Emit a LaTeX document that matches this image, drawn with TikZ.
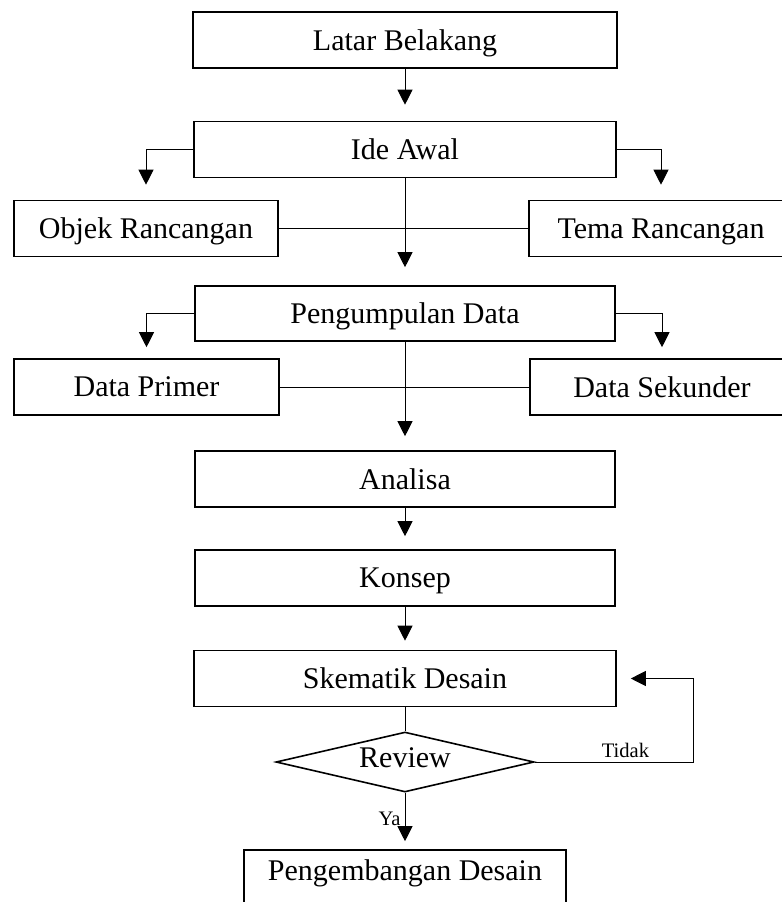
\documentclass[tikz,border=0pt]{standalone}
\usepackage{fontspec}
\setmainfont{Liberation Serif}
\usetikzlibrary{arrows.meta}
\usetikzlibrary{shapes.geometric}

\begin{document}
\begin{tikzpicture}[x=0.5pt, y=-0.5pt,
  box/.style={rectangle, draw=black, line width=0.8pt, minimum height=28pt, inner sep=0pt, text depth=0pt, font=\fontsize{15}{18}\selectfont},
  arr/.style={-{Triangle[length=7.5pt, width=7.5pt]}, line width=0.5pt, shorten >=#1},
  arr/.default=7pt,
  line/.style={line width=0.5pt},
  lbl/.style={font=\fontsize{10.3}{12}\selectfont, inner sep=1pt}]
\clip (0,0) rectangle (782,902);
\node [box, minimum width=212pt] (LB) at (405,40) {Latar Belakang};
\node [box, minimum width=211pt] (IA) at (405,149.5) {Ide Awal};
\node [box, minimum width=132pt] (OR) at (146,228.5) {Objek Rancangan};
\node [box, minimum width=132pt] (TR) at (661,228.5) {Tema Rancangan};
\node [box, minimum width=210pt, minimum height=27.5pt] (PD) at (405,313.5) {Pengumpulan Data};
\node [box, minimum width=132.5pt] (DP) at (146.5,387) {Data Primer};
\node [box, minimum width=132pt] (DS) at (662,387) {Data Sekunder};
\node [box, minimum width=210pt] (AN) at (405,479) {Analisa};
\node [box, minimum width=210pt] (KO) at (405,578) {Konsep};
\node [box, minimum width=211pt] (SD) at (405,678.5) {Skematik Desain};
\node [diamond, aspect=4.3, draw=black, line width=0.8pt, inner sep=0pt, minimum width=129pt, minimum height=30pt, text depth=4pt, font=\fontsize{15}{18}\selectfont] (RV) at (405,762) {Review};
\node [box, minimum width=161pt, minimum height=35pt, text depth=15pt] (PE) at (405,885) {Pengembangan Desain};
% alur utama
\draw [arr=8pt] (LB) -- (IA);
\draw [arr=9pt] (IA) -- (PD);
\draw [arr=7pt] (PD) -- (AN);
\draw [arr=6.5pt] (AN) -- (KO);
\draw [arr=4.5pt] (KO) -- (SD);
\draw [line] (SD) -- (RV);
\draw [arr=4pt] (RV) -- node [lbl, left=1pt, pos=0.46] {Ya} (PE);
% cabang samping
\draw [arr=7.5pt] (IA.west) -| (OR.north);
\draw [arr=7.5pt] (IA.east) -| (TR.north);
\draw [line] (OR) -- (TR);
\draw [arr=5.5pt] (PD.west) -| (DP.north);
\draw [arr=5.5pt] (PD.east) -| (DS.north);
\draw [line] (DP) -- (DS);
% umpan balik
\draw [arr=7pt] (RV.east) -- node [lbl, above=1pt, pos=0.57] {Tidak} ++(159,0) |- (SD.east);
\end{tikzpicture}
\end{document}
